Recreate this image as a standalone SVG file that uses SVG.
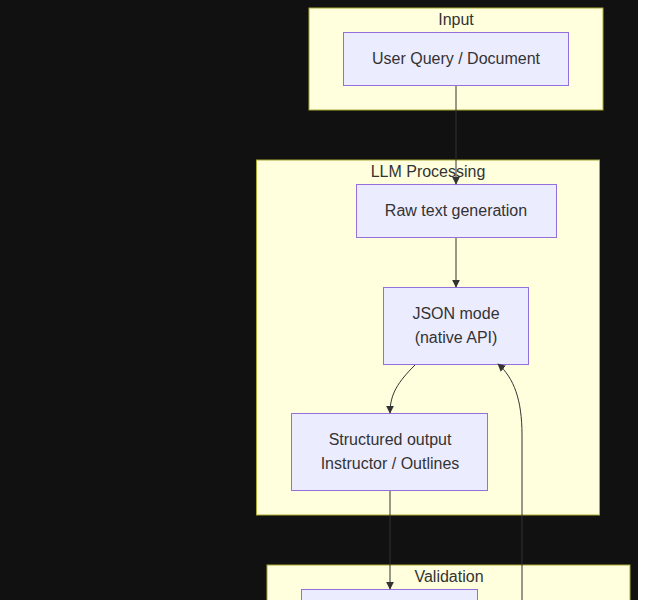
<svg xmlns="http://www.w3.org/2000/svg" width="646" height="600" viewBox="0 0 646 600">
<style>
.cluster{fill:#ffffde;stroke:#aaaa33;stroke-width:1}
.node{fill:#ececff;stroke:#9370db;stroke-width:1}
text{font-family:"Liberation Sans",Arial,sans-serif;font-size:16px;fill:#333;text-anchor:middle;dominant-baseline:central}
.edge{fill:none;stroke:#333;stroke-width:1}
</style>
<defs>
<marker id="arr" viewBox="0 0 10 10" refX="9" refY="5" markerWidth="8" markerHeight="8" markerUnits="userSpaceOnUse" orient="auto">
<path d="M0,0 L10,5 L0,10 z" fill="#333"/>
</marker>
</defs>
<rect x="0" y="0" width="646" height="600" fill="#ffffff"/>
<rect x="0" y="0" width="638" height="600" fill="#111111"/>
<g id="cluster-input">
<rect class="cluster" x="309" y="8" width="294" height="102"/>
<text x="456" y="19">Input</text>
</g>
<g id="cluster-llm">
<rect class="cluster" x="256.5" y="160" width="343" height="355"/>
<text x="428" y="171">LLM Processing</text>
</g>
<g id="cluster-validation">
<rect class="cluster" x="267" y="565" width="363" height="45"/>
<text x="449" y="576">Validation</text>
</g>
<g id="node-query">
<rect class="node" x="343.5" y="32.5" width="225" height="53"/>
<text x="456" y="58">User Query / Document</text>
</g>
<g id="node-raw">
<rect class="node" x="356.5" y="184.5" width="200" height="53"/>
<text x="456" y="210">Raw text generation</text>
</g>
<g id="node-json">
<rect class="node" x="383.5" y="287.5" width="145" height="77"/>
<text x="456" y="313">JSON mode</text>
<text x="456" y="337">(native API)</text>
</g>
<g id="node-structured">
<rect class="node" x="291.5" y="413.5" width="196" height="77"/>
<text x="390" y="439">Structured output</text>
<text x="390" y="463">Instructor / Outlines</text>
</g>
<g id="node-validate">
<rect class="node" x="301.5" y="589.5" width="176" height="30"/>
</g>
<g id="connectors">
<path class="edge" d="M456,86 L456,184" marker-end="url(#arr)"/>
<path class="edge" d="M456,238 L456,287" marker-end="url(#arr)"/>
<path class="edge" d="M415,365 C398,382 390,394 390,413" marker-end="url(#arr)"/>
<path class="edge" d="M390,491 L390,589" marker-end="url(#arr)"/>
<path class="edge" d="M522,600 L522,435 C522,400 514,378 498,364" marker-end="url(#arr)"/>
</g>
</svg>
